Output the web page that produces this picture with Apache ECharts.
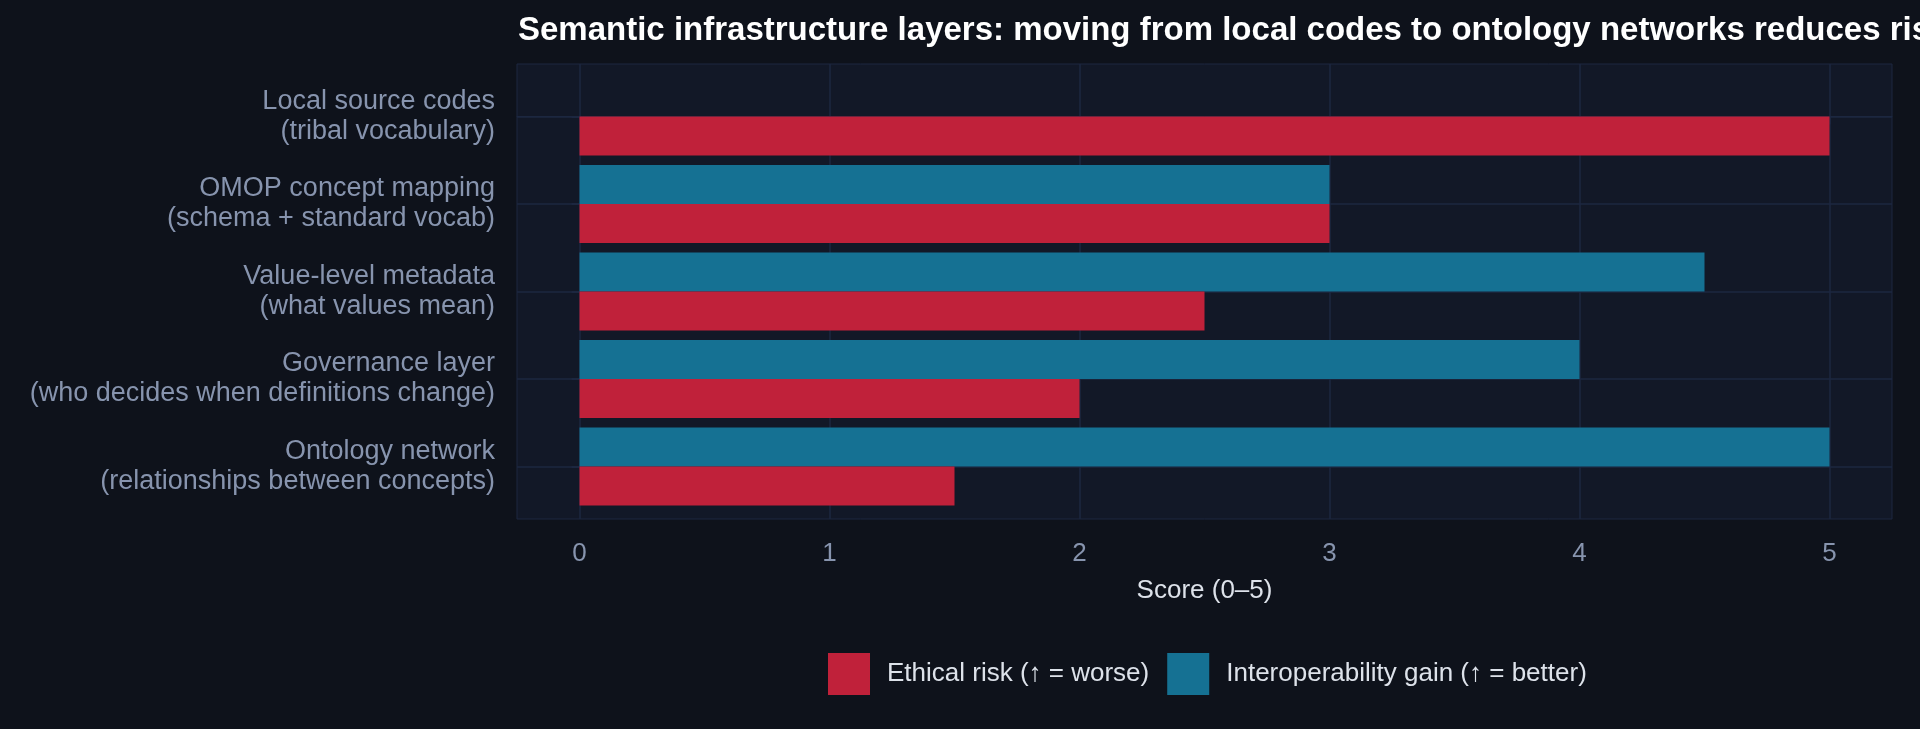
<!DOCTYPE html>
<html lang="en">
<head>
    <meta charset="UTF-8">
    <script type="text/javascript" src="https://cdn.jsdelivr.net/npm/echarts@6/dist/echarts.min.js"></script>
    <title>Semantic infrastructure layers</title>
    <style>
        html, body { margin: 0; padding: 0; background: #0e121b; }
        #chart { width: 1920px; height: 729px; }
    </style>
</head>
<body>
<div id="chart"></div>
<script type="text/javascript">
    // data
    var categories = [
        'Local source codes\n(tribal vocabulary)',
        'OMOP concept mapping\n(schema + standard vocab)',
        'Value-level metadata\n(what values mean)',
        'Governance layer\n(who decides when definitions change)',
        'Ontology network\n(relationships between concepts)'
    ];
    var ethicalRisk = [5, 3, 2.5, 2, 1.5];
    var interopGain = [0, 3, 4.5, 4, 5];
    var xTicks = [0, 1, 2, 3, 4, 5];
    var seriesNames = ['Ethical risk (\u2191 = worse)', 'Interoperability gain (\u2191 = better)'];

    var FONT = '"Liberation Sans", Arial, Helvetica, sans-serif';
    var GRID_COLOR = '#1c2740';
    var LABEL_COLOR = '#8794ae';

    // plot area (outer grid) and padded category range
    var plot = { left: 517, right: 28, top: 64, bottom: 210 };
    var yMin = -0.6, yMax = 4.6;
    var unit = (729 - plot.top - plot.bottom) / (yMax - yMin);
    var pad = (-0.5 - yMin) * unit;

    var chart = echarts.init(document.getElementById('chart'));
    chart.setOption({
        backgroundColor: '#0e121b',
        textStyle: { fontFamily: FONT },
        title: {
            text: 'Semantic infrastructure layers: moving from local codes to ontology networks reduces risk and improves interoperability',
            left: 513,
            top: 9,
            textStyle: { color: '#ffffff', fontSize: 33, fontWeight: 'bold', fontFamily: FONT }
        },
        legend: {
            data: seriesNames,
            bottom: 29,
            left: 823,
            itemWidth: 42,
            itemHeight: 42,
            itemGap: 18,
            icon: 'rect',
            textStyle: { color: '#dde2ea', fontSize: 26, fontFamily: FONT, padding: [0, 0, 0, 12] }
        },
        grid: [
            {
                left: plot.left, right: plot.right, top: plot.top, bottom: plot.bottom,
                show: true, backgroundColor: '#121827', borderColor: GRID_COLOR, borderWidth: 1
            },
            {
                left: plot.left, right: plot.right, top: plot.top + pad, bottom: plot.bottom + pad
            }
        ],
        xAxis: [
            {
                gridIndex: 0, type: 'value', min: -0.25, max: 5.25,
                name: 'Score (0\u20135)', nameLocation: 'middle', nameGap: 59,
                nameTextStyle: { color: '#dde2ea', fontSize: 26, fontFamily: FONT },
                axisLine: { show: true, lineStyle: { color: GRID_COLOR } },
                axisTick: { show: true, length: 8, customValues: xTicks, lineStyle: { color: GRID_COLOR, width: 2 } },
                axisLabel: { customValues: xTicks, color: LABEL_COLOR, fontSize: 26, margin: 22, fontFamily: FONT },
                splitLine: { show: true, lineStyle: { color: GRID_COLOR, width: 1.5 } }
            },
            {
                gridIndex: 1, type: 'value', min: -0.25, max: 5.25, show: false,
                splitLine: { show: false }
            }
        ],
        yAxis: [
            {
                gridIndex: 0, type: 'value', inverse: true, min: yMin, max: yMax,
                axisLine: { show: false },
                axisTick: { show: true, length: 8, customValues: [0, 1, 2, 3, 4], lineStyle: { color: GRID_COLOR, width: 2 } },
                axisLabel: {
                    customValues: [0, 1, 2, 3, 4],
                    formatter: function (v) { return categories[Math.round(v)]; },
                    color: LABEL_COLOR, fontSize: 27, lineHeight: 30, margin: 22, align: 'right', fontFamily: FONT
                },
                splitLine: { show: true, lineStyle: { color: GRID_COLOR, width: 1.5 } }
            },
            {
                gridIndex: 1, type: 'category', data: categories, inverse: true, show: false
            }
        ],
        series: [
            {
                name: seriesNames[1], type: 'bar', xAxisIndex: 1, yAxisIndex: 1,
                data: interopGain, barGap: '0%', barCategoryGap: '11%',
                itemStyle: { color: '#157193' }
            },
            {
                name: seriesNames[0], type: 'bar', xAxisIndex: 1, yAxisIndex: 1,
                data: ethicalRisk, barGap: '0%', barCategoryGap: '11%',
                itemStyle: { color: '#c0213a' }
            }
        ]
    });
</script>
</body>
</html>
